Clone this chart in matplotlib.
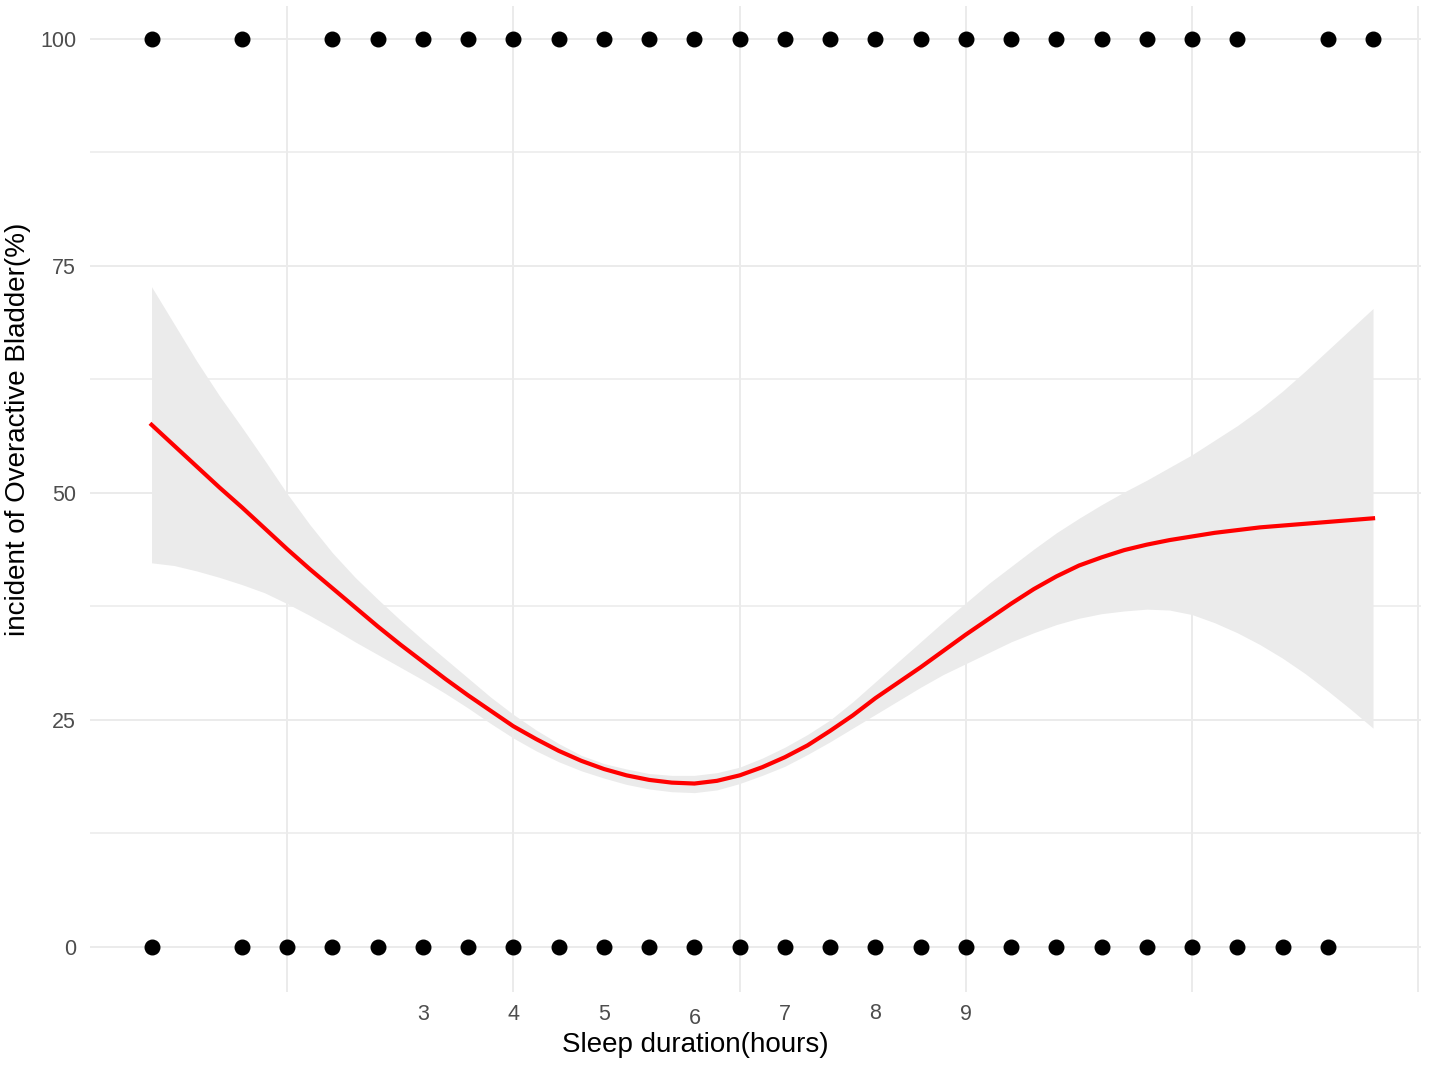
import numpy as np
import matplotlib.pyplot as plt
from matplotlib.transforms import ScaledTranslation

plt.rcParams['font.family'] = ['Liberation Sans', 'DejaVu Sans']

# 관측값 (0 / 100 으로 표시된 점)
top_x = [0, 1, 2, 2.5, 3, 3.5, 4, 4.5, 5, 5.5, 6, 6.5, 7, 7.5, 8, 8.5,
         9, 9.5, 10, 10.5, 11, 11.5, 12, 13, 13.5]
bottom_x = [0, 1, 1.5, 2, 2.5, 3, 3.5, 4, 4.5, 5, 5.5, 6, 6.5, 7, 7.5, 8,
            8.5, 9, 9.5, 10, 10.5, 11, 11.5, 12, 12.5, 13]

# smooth 곡선 + 신뢰구간 (0.25 간격으로 읽은 값)
fit_x = [0, 0.25, 0.5, 0.75, 1, 1.25, 1.5, 1.75, 2, 2.25, 2.5, 2.75, 3, 3.25,
         3.5, 3.75, 4, 4.25, 4.5, 4.75, 5, 5.25, 5.5, 5.75, 6, 6.25, 6.5, 6.75,
         7, 7.25, 7.5, 7.75, 8, 8.25, 8.5, 8.75, 9, 9.25, 9.5, 9.75, 10, 10.25,
         10.5, 10.75, 11, 11.25, 11.5, 11.75, 12, 12.25, 12.5, 12.75, 13, 13.25, 13.5]
fit_y = [57.5, 55.2, 52.9, 50.6, 48.4, 46.1, 43.8, 41.6, 39.5, 37.4, 35.3, 33.3, 31.4, 29.5,
         27.7, 26.0, 24.3, 22.9, 21.6, 20.5, 19.6, 18.9, 18.4, 18.1, 18.0, 18.3, 18.9, 19.8,
         20.9, 22.2, 23.8, 25.5, 27.4, 29.1, 30.8, 32.6, 34.4, 36.1, 37.8, 39.4, 40.8, 42.0,
         42.9, 43.7, 44.3, 44.8, 45.2, 45.6, 45.9, 46.2, 46.4, 46.6, 46.8, 47.0, 47.2]
fit_hi = [72.7, 68.6, 64.5, 60.7, 57.2, 53.6, 49.9, 46.5, 43.4, 40.7, 38.3, 36.0, 33.8, 31.7,
          29.6, 27.5, 25.6, 23.9, 22.4, 21.1, 20.2, 19.6, 19.1, 18.9, 18.9, 19.2, 19.8, 20.8,
          22.0, 23.4, 25.0, 27.0, 29.2, 31.4, 33.6, 35.8, 37.9, 40.0, 41.9, 43.8, 45.6, 47.2,
          48.7, 50.1, 51.4, 52.8, 54.2, 55.8, 57.4, 59.2, 61.2, 63.4, 65.7, 68.0, 70.3]
fit_lo = [42.3, 42.0, 41.4, 40.7, 39.9, 39.0, 37.8, 36.5, 35.1, 33.6, 32.2, 30.8, 29.4, 27.9,
          26.3, 24.6, 23.0, 21.6, 20.4, 19.4, 18.6, 17.9, 17.4, 17.1, 17.0, 17.3, 18.0, 18.9,
          19.9, 21.2, 22.6, 24.1, 25.6, 27.1, 28.6, 30.0, 31.2, 32.4, 33.6, 34.6, 35.5, 36.2,
          36.7, 37.0, 37.2, 37.1, 36.6, 35.7, 34.6, 33.3, 31.8, 30.1, 28.2, 26.2, 24.1]

xtick_vals = [3, 4, 5, 6, 7, 8, 9]
xgrid_vals = [1.5, 4, 6.5, 9, 11.5, 14]
ytick_vals = [0, 25, 50, 75, 100]
yminor_vals = [12.5, 37.5, 62.5, 87.5]

fig = plt.figure(figsize=(14.29, 10.66), dpi=100)
ax = fig.add_axes([90/1429, 74/1066, (1421-90)/1429, (992-6)/1066])

# 격자 (x 격자선은 눈금 위치와 다름)
ax.xaxis.remove_overlapping_locs = False
ax.set_xticks(xgrid_vals, minor=True)
ax.set_yticks(yminor_vals, minor=True)
ax.grid(which='minor', axis='x', color='#ebebeb', lw=1.4)
ax.grid(which='major', axis='y', color='#ebebeb', lw=1.4)
ax.grid(which='minor', axis='y', color='#ebebeb', lw=1.1)
ax.set_axisbelow(True)

ax.fill_between(fit_x, fit_lo, fit_hi, color='#ebebeb', lw=0, zorder=2)
ax.plot(fit_x, fit_y, color='#ff0000', lw=3, zorder=3)

ax.scatter(top_x, [100]*len(top_x), s=110, color='black', zorder=4)
ax.scatter(bottom_x, [0]*len(bottom_x), s=110, color='black', zorder=4)

ax.set_xlim(-0.68, 14.03)
ax.set_ylim(-4.95, 103.6)

ax.set_xticks(xtick_vals)
ax.set_xticklabels([str(v) for v in xtick_vals])
ax.set_yticks(ytick_vals)
ax.set_yticklabels([str(v) for v in ytick_vals])
ax.tick_params(which='both', length=0, labelsize=15.5, labelcolor='#4d4d4d')
ax.tick_params(axis='x', pad=8.5)
ax.tick_params(axis='y', pad=10)

# 라벨 위치가 조금씩 어긋나 있음
shift = {'6': -4, '8': 1}
for lab in ax.get_xticklabels():
    dy = shift.get(lab.get_text(), 0)
    if dy:
        lab.set_transform(lab.get_transform() + ScaledTranslation(0, dy/100, fig.dpi_scale_trans))

for s in ax.spines.values():
    s.set_visible(False)

ax.set_xlabel('Sleep duration(hours)', fontsize=20, color='black')
ax.xaxis.set_label_coords((695-90)/1331, -(1045-992)/986)
ax.xaxis.label.set_va('center')
ax.set_ylabel('incident of Overactive Bladder(%)', fontsize=20, color='black')
ax.yaxis.set_label_coords((18-90)/1331, (992-429)/986)
ax.yaxis.label.set_va('center')

fig.savefig('out.png', dpi=100)
